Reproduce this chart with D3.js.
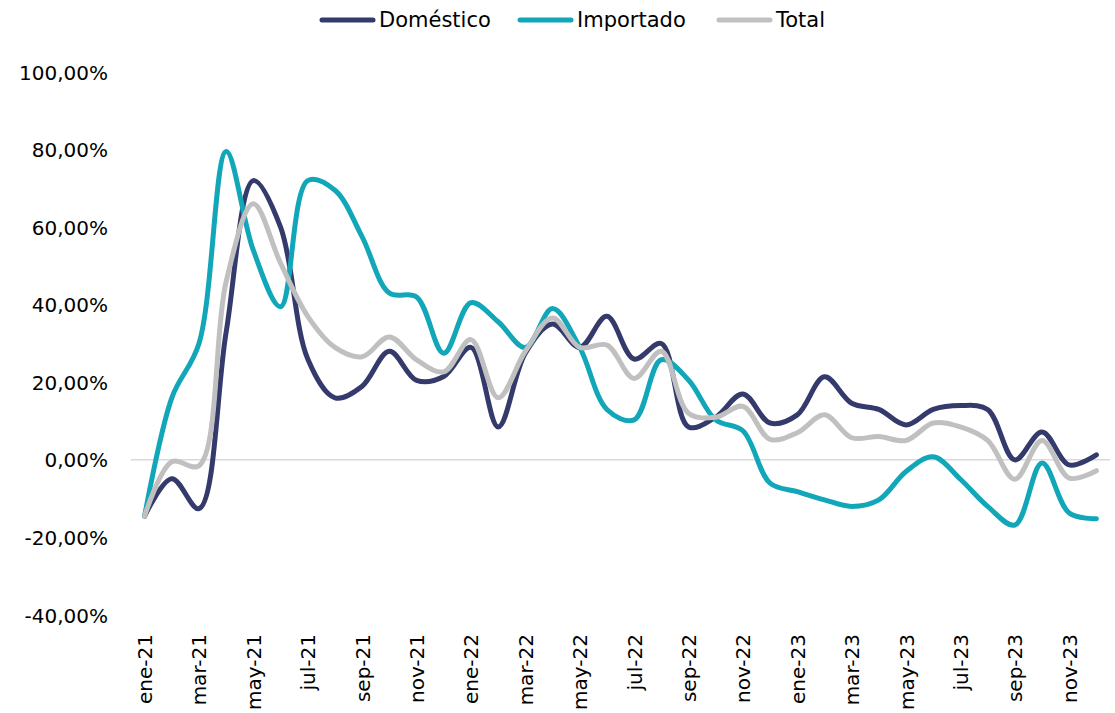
<!DOCTYPE html>
<html>
<head>
<meta charset="utf-8">
<script src="https://cdn.jsdelivr.net/npm/d3@7"></script>
<style>
  html, body { margin: 0; padding: 0; background: #ffffff; }
  svg { display: block; }
  text { font-family: "DejaVu Sans", sans-serif; fill: #000; }
</style>
</head>
<body>
<svg id="chart" width="1115" height="713"></svg>
<script>
const months = ["ene-21","feb-21","mar-21","abr-21","may-21","jun-21","jul-21","ago-21","sep-21","oct-21","nov-21","dic-21",
                "ene-22","feb-22","mar-22","abr-22","may-22","jun-22","jul-22","ago-22","sep-22","oct-22","nov-22","dic-22",
                "ene-23","feb-23","mar-23","abr-23","may-23","jun-23","jul-23","ago-23","sep-23","oct-23","nov-23","dic-23"];
const domestico = [-14.5,-4.9,-12.6,33,72,60,26,16,19,28,20.5,21.5,
                   29,8.5,27.5,35,29,37,26,30,8.5,11,17,9.5,
                   11.6,21.4,14.6,13,9,13,14,13,0,7.2,-1.3,1.3];
const importado = [-14.5,16,30,79.5,54,39.5,72,69.5,57.5,43,42,27.5,
                   40.5,35.6,29,39,29,13,10.3,25.8,20.6,10.3,7.5,-6,
                   -8.2,-10.3,-12,-10.3,-3,0.8,-5,-12,-16.8,-0.8,-13.7,-15.2];
const total = [-14.5,-0.5,-1.5,46,66,50.7,37,29,26.6,31.7,25.8,22.7,
               31,16,28,36.6,29,29.6,21,28,12,11,13.8,5.3,
               7,11.6,5.7,6,5,9.5,8.5,5,-5,5,-4.7,-2.8];
const yTicks = [-40,-20,0,20,40,60,80,100];
const seriesNames = ["Doméstico","Importado","Total"];
const seriesColors = ["#343a6b","#12a6b9","#c0c0c0"];

const svg = d3.select("#chart");
const x = d3.scalePoint().domain(months).range([131, 1110]).padding(0.5);
const y = d3.scaleLinear().domain([-40, 100]).range([615, 72]);

const fmt = v => d3.format(".2f")(v).replace(".", ",").replace("\u2212", "-") + "%";

// zero line
svg.append("line")
  .attr("x1", 131).attr("x2", 1110)
  .attr("y1", y(0)).attr("y2", y(0))
  .attr("stroke", "#d9d9d9").attr("stroke-width", 1.5);

// y axis
const yAxis = d3.axisLeft(y).tickValues(yTicks).tickSize(0).tickPadding(0).tickFormat(fmt);
const gy = svg.append("g").attr("transform", "translate(108,0)").call(yAxis);
gy.select(".domain").remove();
gy.selectAll("text").style("font-size", "20px").attr("dy", "0.35em")
  .style("font-family", "'DejaVu Sans', sans-serif");

// x axis
const xAxis = d3.axisBottom(x).tickValues(months.filter((d, i) => i % 2 === 0)).tickSize(0).tickPadding(0);
const gx = svg.append("g").attr("transform", "translate(0,634)").call(xAxis);
gx.select(".domain").remove();
gx.selectAll(".tick text")
  .style("font-size", "20px")
  .style("font-family", "'DejaVu Sans', sans-serif")
  .attr("transform", "rotate(-90)")
  .attr("x", 0).attr("y", 0).attr("dy", "0.35em")
  .attr("text-anchor", "end");

// lines
const line = d3.line().x((d, i) => x(months[i])).y(d => y(d)).curve(d3.curveCatmullRom.alpha(0.5));
const data = [domestico, importado, total];
[0, 1, 2].forEach(k => {
  svg.append("path")
    .datum(data[k])
    .attr("fill", "none")
    .attr("stroke", seriesColors[k])
    .attr("stroke-width", 5)
    .attr("stroke-linejoin", "round")
    .attr("stroke-linecap", "round")
    .attr("d", line);
});

// legend
const legendItems = [
  {name: seriesNames[0], color: seriesColors[0], x: 322},
  {name: seriesNames[1], color: seriesColors[1], x: 520},
  {name: seriesNames[2], color: seriesColors[2], x: 719}
];
const lg = svg.append("g");
legendItems.forEach(it => {
  lg.append("line").attr("x1", it.x).attr("x2", it.x + 51).attr("y1", 20).attr("y2", 20)
    .attr("stroke", it.color).attr("stroke-width", 5).attr("stroke-linecap", "round");
  lg.append("text").attr("x", it.x + 57).attr("y", 20).attr("dy", "0.35em")
    .style("font-size", "21px").text(it.name);
});
</script>
</body>
</html>
